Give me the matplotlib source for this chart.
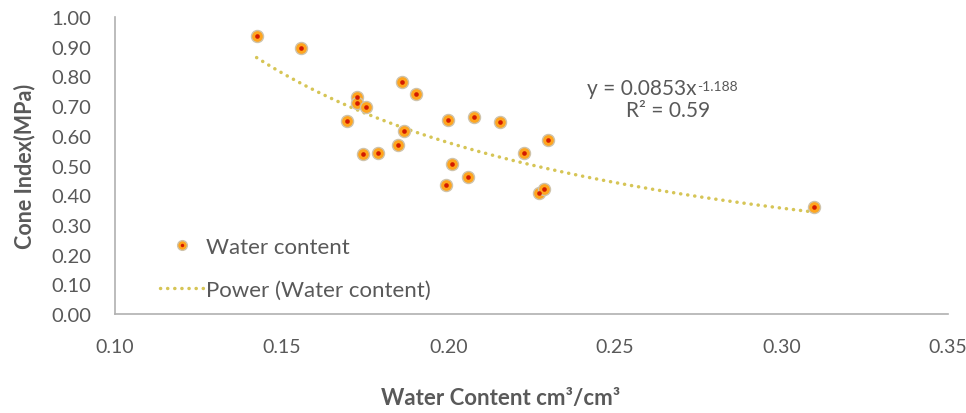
import matplotlib
matplotlib.use("Agg")
import matplotlib.pyplot as plt
import numpy as np
from matplotlib.lines import Line2D

# Data
water_content = [0.1425, 0.1559, 0.1726, 0.1727, 0.1754, 0.1695, 0.1861, 0.1902,
                 0.1866, 0.1848, 0.1744, 0.1788, 0.1999, 0.2076, 0.2156, 0.2300,
                 0.2226, 0.2010, 0.2058, 0.1994, 0.2274, 0.2288, 0.3097]
cone_index = [0.935, 0.894, 0.732, 0.710, 0.696, 0.650, 0.780, 0.741,
              0.615, 0.569, 0.538, 0.541, 0.652, 0.663, 0.645, 0.587,
              0.542, 0.504, 0.462, 0.434, 0.408, 0.422, 0.360]

# Power trendline coefficients (as displayed on the chart)
fit_coef = 0.0853
fit_exp = -1.188

x_ticks = [0.10, 0.15, 0.20, 0.25, 0.30, 0.35]
y_ticks = [0.0, 0.1, 0.2, 0.3, 0.4, 0.5, 0.6, 0.7, 0.8, 0.9, 1.0]

FONT = ["Lato", "DejaVu Sans"]
plt.rcParams['font.family'] = FONT
GRAY = "#595959"
TREND = "#D6C556"
ORANGE = "#FFA51E"
RED = "#D21A00"
HALO = "#CFC3AA"
LS = (0, (0.05, 2.0))

fig = plt.figure(figsize=(9.66, 4.14), dpi=100)
ax = fig.add_axes([115/966, 1 - 315/414, (948 - 115)/966, (315 - 18)/414])

ax.set_xlim(0.10, 0.35)
ax.set_ylim(0.0, 1.0)

# trendline
xs = np.linspace(min(water_content), max(water_content), 300)
ys = fit_coef * xs ** fit_exp
ax.plot(xs, ys, color=TREND, lw=2.5, linestyle=LS,
        dash_capstyle="round", zorder=2)

# markers: orange disc with halo and red centre
ax.scatter(water_content, cone_index, s=75, color=ORANGE,
           edgecolors=HALO, linewidths=1.0, zorder=3)
ax.scatter(water_content, cone_index, s=11, color=RED,
           linewidths=0, zorder=4)

ax.set_xticks(x_ticks)
ax.set_yticks(y_ticks)
ax.set_xticklabels([f"{v:.2f}" for v in x_ticks])
ax.set_yticklabels([f"{v:.2f}" for v in y_ticks])
ax.tick_params(axis="both", length=0, labelcolor=GRAY)
ax.tick_params(axis="x", pad=17, labelsize=14)
ax.tick_params(axis="y", pad=17, labelsize=14.5)

for s in ["top", "right"]:
    ax.spines[s].set_visible(False)
for s in ["left", "bottom"]:
    ax.spines[s].set_color("#B0B0B0")
    ax.spines[s].set_linewidth(1.2)

ax.set_ylabel("Cone Index(MPa)", fontsize=15.5, fontweight="bold", color=GRAY)
ax.yaxis.set_label_coords(-(115 - 25) / 833, 0.5)
ax.set_xlabel("Water Content cm³/cm³", fontsize=16, fontweight="bold", color=GRAY)
ax.xaxis.set_label_coords((501 - 115) / 833, -(399 - 315) / 297)
ax.xaxis.label.set_va("center")
ax.yaxis.label.set_va("center")

# equation text
eq = ax.text(0.1 + (587 - 115) / 3330, (315 - 89) / 297, "y = 0.0853x", fontsize=15,
             color=GRAY, ha="left", va="center")
ax.annotate("-1.188", xy=(1.0, 0.88), xycoords=eq, fontsize=10, color=GRAY,
            ha="left", va="top")
ax.text(0.1 + (668 - 115) / 3330, (315 - 111) / 297, "R² = 0.59", fontsize=15,
        color=GRAY, ha="center", va="center")

# legend
h1 = Line2D([], [], linestyle="none", marker="o", markersize=7,
            markerfacecolor=ORANGE, markeredgecolor=HALO)
h1c = Line2D([], [], linestyle="none", marker="o", markersize=2.5,
             markerfacecolor=RED, markeredgewidth=0)
h2 = Line2D([], [], color=TREND, lw=2.5, linestyle=LS, dash_capstyle="round")
leg = ax.legend([(h1, h1c), h2], ["Water content", "Power (Water content)"],
                loc="upper left", bbox_to_anchor=(0.043, 0.29), frameon=False,
                fontsize=16, labelcolor=GRAY, handlelength=2.0, handletextpad=0.1,
                labelspacing=1.05, borderaxespad=0.0)

fig.savefig("out.png", dpi=100)
